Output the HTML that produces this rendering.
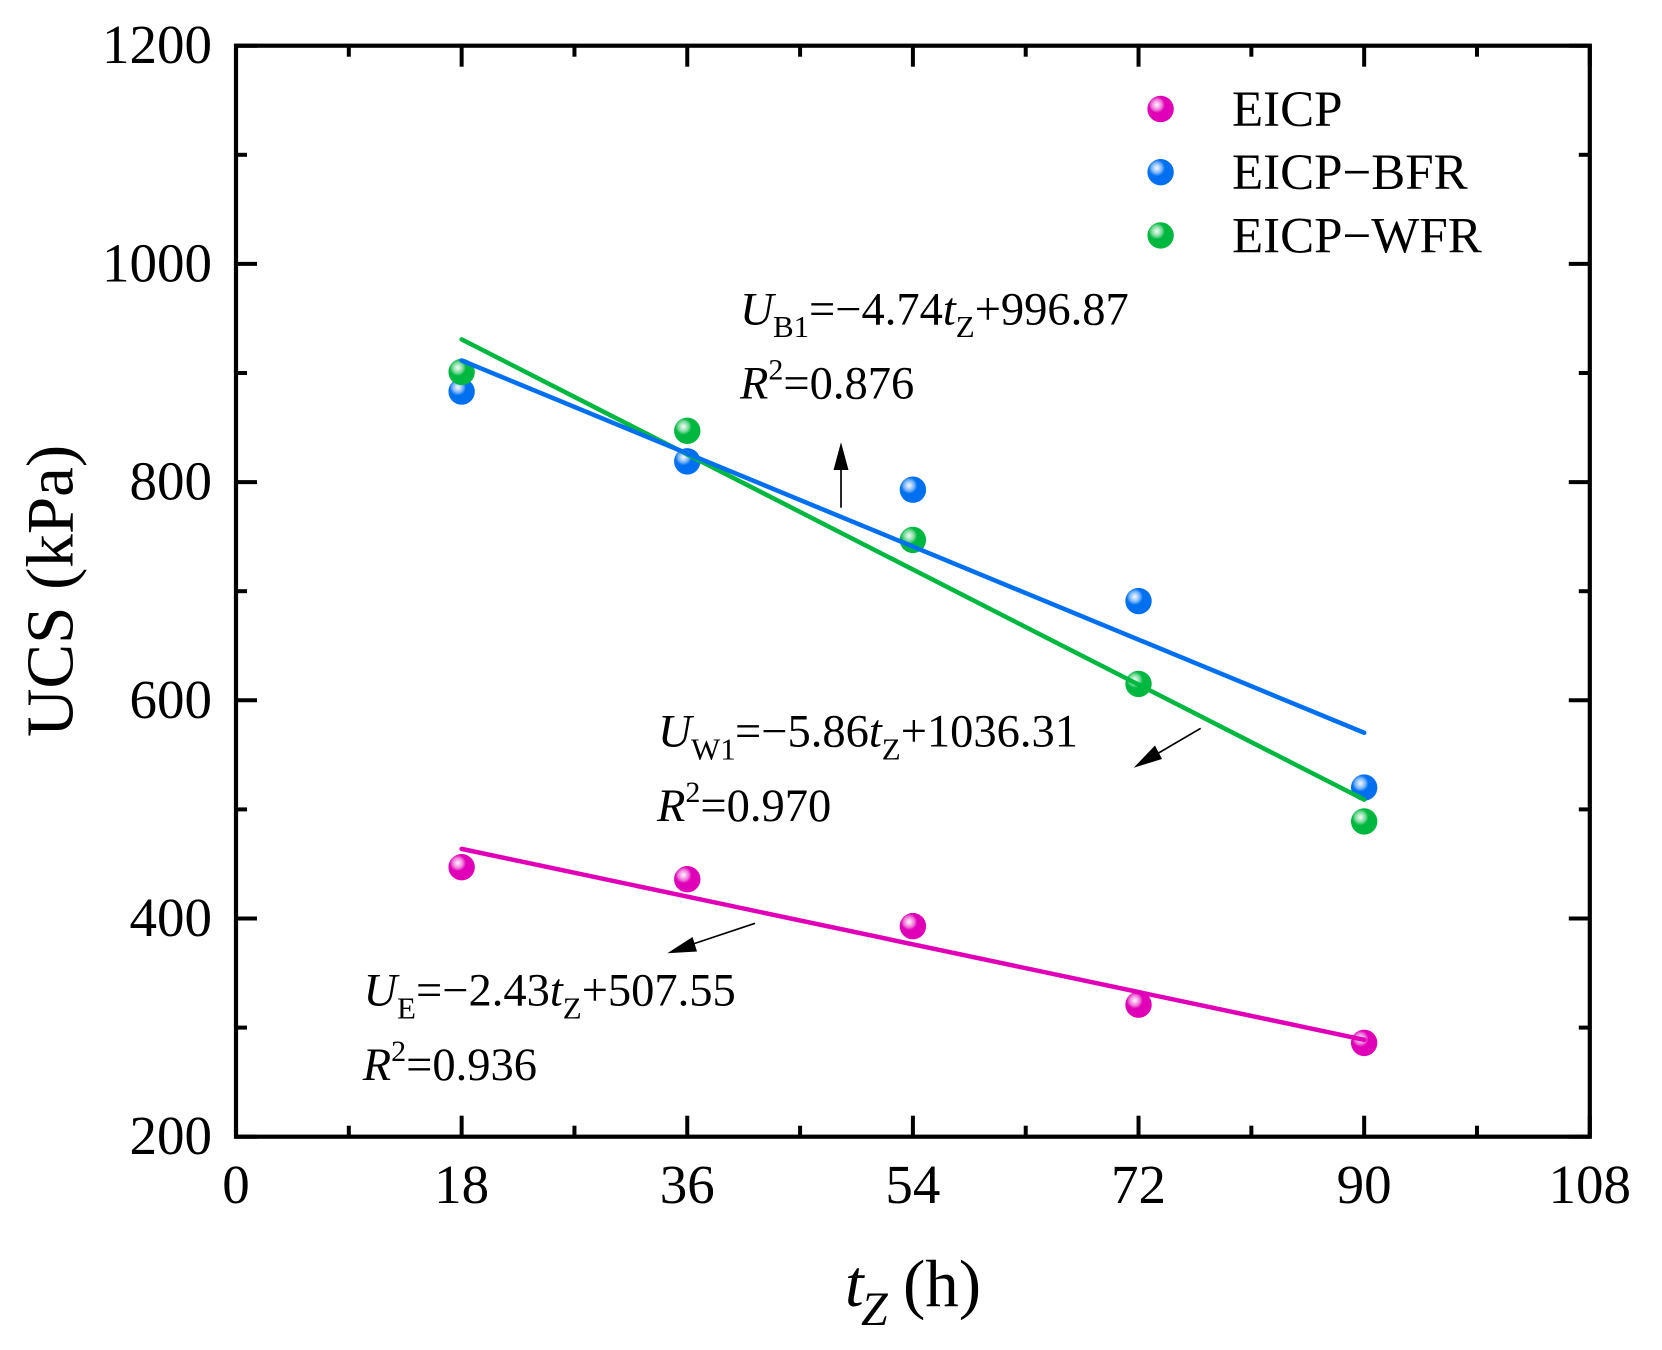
<!DOCTYPE html>
<html lang="en">
<head>
<meta charset="utf-8">
<title>UCS vs tZ</title>
<style>
html,body{margin:0;padding:0;background:#fff;width:1662px;height:1350px;overflow:hidden}
svg{display:block}
text{font-family:"Liberation Serif","Times New Roman",serif;fill:#000}
.i{font-style:italic}
</style>
</head>
<body>
<svg id="chart" xmlns="http://www.w3.org/2000/svg" width="1662" height="1350" viewBox="0 0 1662 1350">
  <defs>
    <radialGradient id="shine">
      <stop offset="0" stop-color="#fff" stop-opacity="0.95"/>
      <stop offset="0.3" stop-color="#fff" stop-opacity="0.75"/>
      <stop offset="0.65" stop-color="#fff" stop-opacity="0.45"/>
      <stop offset="1" stop-color="#fff" stop-opacity="0"/>
    </radialGradient>
  </defs>
  <rect x="0" y="0" width="1662" height="1350" fill="#fff"/>
  <g id="fits"></g>
  <g id="ticks"></g>
  <g id="labels"></g>
  <rect x="236" y="45.7" width="1353.8" height="1091" fill="none" stroke="#000" stroke-width="4.2"/>

  <text transform="translate(72.7,737) rotate(-90)" font-size="67">UCS (kPa)</text>
  <text y="1306" font-size="67"><tspan class="i" x="845">t</tspan><tspan class="i" x="861" y="1325" font-size="48">Z</tspan><tspan x="903" y="1306">(h)</tspan></text>

  <g>
    <text y="324.3" font-size="46.5"><tspan class="i" x="740">U</tspan><tspan x="773" y="337" font-size="31">B1</tspan><tspan x="809" y="324.3">=−4.74</tspan><tspan class="i">t</tspan><tspan y="337" font-size="31">Z</tspan><tspan y="324.3">+996.87</tspan></text>
    <text y="398.3" font-size="46.5"><tspan class="i" x="740">R</tspan><tspan y="379.3" font-size="30">2</tspan><tspan y="398.3">=0.876</tspan></text>
  </g>
  <g>
    <text y="746.7" font-size="46.5"><tspan class="i" x="658">U</tspan><tspan x="691" y="759.4" font-size="31">W1</tspan><tspan x="735" y="746.7">=−5.86</tspan><tspan class="i">t</tspan><tspan y="759.4" font-size="31">Z</tspan><tspan y="746.7">+1036.31</tspan></text>
    <text y="821" font-size="46.5"><tspan class="i" x="657">R</tspan><tspan y="802" font-size="30">2</tspan><tspan y="821">=0.970</tspan></text>
  </g>
  <g>
    <text y="1005.7" font-size="46.5"><tspan class="i" x="363.5">U</tspan><tspan x="397" y="1018.4" font-size="31">E</tspan><tspan x="416" y="1005.7">=−2.43</tspan><tspan class="i">t</tspan><tspan y="1018.4" font-size="31">Z</tspan><tspan y="1005.7">+507.55</tspan></text>
    <text y="1080" font-size="46.5"><tspan class="i" x="362.7">R</tspan><tspan y="1061" font-size="30">2</tspan><tspan y="1080">=0.936</tspan></text>
  </g>

  <g>
    <line x1="841" y1="507.7" x2="841" y2="466" stroke="#000" stroke-width="1.7"/>
    <polygon points="841,442.3 833.5,470 848.5,470" fill="#000"/>
  </g>
  <g>
    <line x1="1200.7" y1="728.3" x2="1150" y2="758" stroke="#000" stroke-width="1.7"/>
    <polygon points="1133.7,767.7 1155,745.5 1162,759" fill="#000"/>
  </g>
  <g>
    <line x1="755" y1="923.3" x2="690" y2="945" stroke="#000" stroke-width="1.7"/>
    <polygon points="667.3,953.3 692.5,937 697,951.5" fill="#000"/>
  </g>

  <g id="legend"></g>
</svg>
<script>
var xTickValues = [0, 18, 36, 54, 72, 90, 108];
var xMinorValues = [9, 27, 45, 63, 81, 99];
var yTickValues = [200, 400, 600, 800, 1000, 1200];
var yMinorValues = [300, 500, 700, 900, 1100];
var times = [18, 36, 54, 72, 90];
var eicpValues = [447, 436, 393, 321, 286];
var bfrValues = [883, 819, 793, 691, 520];
var wfrValues = [901, 847, 747, 615, 489];
var fitSlopes = [-2.43, -5.86, -4.74];
var fitIntercepts = [507.55, 1036.31, 996.87];
var seriesNames = ["EICP", "EICP\u2212WFR", "EICP\u2212BFR"];
var seriesColors = ["#e000b8", "#00b83f", "#0070f0"];

var NS = "http://www.w3.org/2000/svg";
function xScale(v) { return 236 + (v / 108) * 1353.8; }
function yScale(v) { return 1136.7 - ((v - 200) / 1000) * 1091; }
function make(tag, attrs, parent) {
  var el = document.createElementNS(NS, tag);
  for (var k in attrs) el.setAttribute(k, attrs[k]);
  parent.appendChild(el);
  return el;
}
function slug(name) { return name.replace("\u2212", "-").toLowerCase(); }

var ticksG = document.getElementById("ticks");
var labelsG = document.getElementById("labels");
var fitsG = document.getElementById("fits");
var legendG = document.getElementById("legend");
var TOP = 45.7, BOT = 1136.7, L = 236, R = 1589.8;

function tickPair(x1, y1, x2, y2, w, name) {
  var t = make("line", {x1: x1, y1: y1, x2: x2, y2: y2, stroke: "#000", "stroke-width": w}, ticksG);
  
  
}

xTickValues.forEach(function (v) {
  var x = xScale(v);
  tickPair(x, BOT, x, BOT - 21, 4, "x-major-tick");
  tickPair(x, TOP, x, TOP + 21, 4, "x-major-tick-top");
  var t = make("text", {x: x, y: 1203, "font-size": 55, "text-anchor": "middle"}, labelsG);
  
  
  t.textContent = String(v);
});
xMinorValues.forEach(function (v) {
  var x = xScale(v);
  tickPair(x, BOT, x, BOT - 11, 4, "x-minor-tick");
  tickPair(x, TOP, x, TOP + 11, 4, "x-minor-tick-top");
});
yTickValues.forEach(function (v) {
  var y = yScale(v);
  tickPair(L, y, L + 21, y, 4, "y-major-tick");
  tickPair(R, y, R - 21, y, 4, "y-major-tick-right");
  var t = make("text", {x: 212, y: y + 17.5, "font-size": 55, "text-anchor": "end"}, labelsG);
  
  
  t.textContent = String(v);
});
yMinorValues.forEach(function (v) {
  var y = yScale(v);
  tickPair(L, y, L + 11, y, 4, "y-minor-tick");
  tickPair(R, y, R - 11, y, 4, "y-minor-tick-right");
});

function sphere(parent, cx, cy, color, name) {
  var g = make("g", {}, parent);
  
  
  make("circle", {cx: cx, cy: cy, r: 13.2, fill: color}, g);
  make("circle", {cx: cx - 3.8, cy: cy - 4.2, r: 8.2, fill: "url(#shine)"}, g);
}

/* markers: magenta, blue, then green on top */
times.forEach(function (t, i) {
  sphere(fitsG, xScale(t), yScale(eicpValues[i]), seriesColors[0], "eicp-point");
});
times.forEach(function (t, i) {
  sphere(fitsG, xScale(t), yScale(bfrValues[i]), seriesColors[2], "bfr-point");
});
times.forEach(function (t, i) {
  sphere(fitsG, xScale(t), yScale(wfrValues[i]), seriesColors[1], "wfr-point");
});

/* fit lines from slope and intercept */
var lineKeys = ["eicp-fit-line", "wfr-fit-line", "bfr-fit-line"];
fitSlopes.forEach(function (m, i) {
  var t0 = times[0], t1 = times[times.length - 1];
  var ln = make("line", {
    x1: xScale(t0), y1: yScale(m * t0 + fitIntercepts[i]),
    x2: xScale(t1), y2: yScale(m * t1 + fitIntercepts[i]),
    stroke: seriesColors[i], "stroke-width": 4.5, "stroke-linecap": "round"
  }, fitsG);
  
  
});

/* legend order: EICP, BFR, WFR */
[0, 2, 1].forEach(function (s, row) {
  var cy = 109 + row * 63.2;
  sphere(legendG, 1160.6, cy, seriesColors[s], "legend-marker-" + slug(seriesNames[s]));
  var t = make("text", {x: 1232, y: cy + 17, "font-size": 51}, legendG);
  
  
  t.textContent = seriesNames[s];
});
</script>
</body>
</html>
